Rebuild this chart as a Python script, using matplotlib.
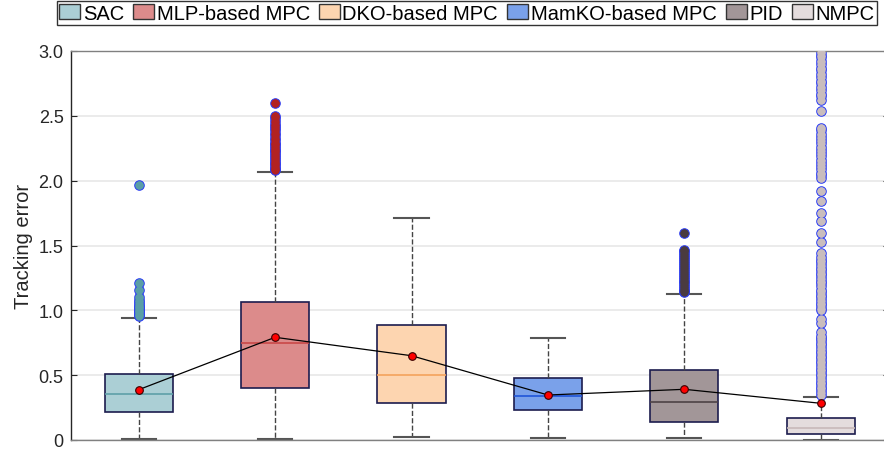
import matplotlib
matplotlib.use('Agg')
import matplotlib.pyplot as plt
from matplotlib import font_manager
from matplotlib.patches import Patch

# Datos
labels = ['SAC', 'MLP-based MPC', 'DKO-based MPC', 'MamKO-based MPC', 'PID', 'NMPC']
q1 = [0.218, 0.401, 0.288, 0.231, 0.141, 0.044]
med = [0.355, 0.746, 0.501, 0.337, 0.293, 0.090]
q3 = [0.509, 1.067, 0.884, 0.480, 0.537, 0.167]
whislo = [0.005, 0.005, 0.023, 0.018, 0.013, 0.002]
whishi = [0.943, 2.067, 1.712, 0.784, 1.128, 0.334]
means = [0.388, 0.792, 0.650, 0.347, 0.391, 0.283]

fliers_sac = [0.955, 0.965, 0.975, 0.985, 0.995, 1.005, 1.015, 1.025, 1.035, 1.05,
              1.065, 1.08, 1.10, 1.155, 1.21, 1.965]
fliers_mlp = [2.08, 2.09, 2.10, 2.115, 2.13, 2.14, 2.155, 2.17, 2.18, 2.195, 2.21,
              2.225, 2.24, 2.25, 2.265, 2.28, 2.29, 2.31, 2.33, 2.35, 2.37, 2.39,
              2.41, 2.425, 2.44, 2.46, 2.48, 2.50, 2.60]
fliers_dko = []
fliers_mamko = []
fliers_pid = [1.14, 1.15, 1.16, 1.175, 1.19, 1.20, 1.215, 1.23, 1.245, 1.26, 1.275,
              1.29, 1.305, 1.32, 1.335, 1.35, 1.365, 1.38, 1.395, 1.41, 1.425,
              1.44, 1.455, 1.465, 1.595]
fliers_nmpc = [0.35, 0.37, 0.39, 0.41, 0.43, 0.45, 0.47, 0.49, 0.51, 0.53, 0.55,
               0.57, 0.59, 0.61, 0.63, 0.65, 0.67, 0.69, 0.71, 0.73, 0.75, 0.77,
               0.79, 0.805, 0.835, 0.90, 0.93, 1.0, 1.02, 1.04, 1.06, 1.08, 1.10,
               1.12, 1.14, 1.16, 1.19, 1.21, 1.23, 1.25, 1.27, 1.29, 1.31, 1.33,
               1.35, 1.37, 1.39, 1.41, 1.44, 1.525, 1.60, 1.69, 1.75, 1.845,
               1.92, 2.02, 2.04, 2.06, 2.09, 2.11, 2.14, 2.16, 2.19, 2.21, 2.24,
               2.26, 2.29, 2.31, 2.34, 2.36, 2.39, 2.41, 2.54, 2.62, 2.65, 2.67,
               2.70, 2.72, 2.75, 2.77, 2.80, 2.82, 2.85, 2.87, 2.90, 2.92, 2.95,
               2.97, 2.99]
fliers = [fliers_sac, fliers_mlp, fliers_dko, fliers_mamko, fliers_pid, fliers_nmpc]

box_colors = ['#abcfd5', '#dc8b8b', '#fdd5b0', '#7aa1ea', '#a29698', '#e4dcdd']
med_colors = ['#5e9fa8', '#c94848', '#f4a35c', '#1f55d8', '#4d4246', '#c8b9b9']
flier_colors = ['#5a9ea6', '#b22222', '#f4a35c', '#1f55d8', '#4a3b40', '#c9bdbd']

names = {f.name for f in font_manager.fontManager.ttflist}
base_font = 'Liberation Sans' if 'Liberation Sans' in names else 'DejaVu Sans'
plt.rcParams['font.family'] = base_font

fig = plt.figure(figsize=(8.84, 4.56), dpi=100)
ax = fig.add_axes([70.5 / 884, 15 / 456, 818.5 / 884, 389 / 456])

positions = list(range(1, len(labels) + 1))
stats = []
for i in range(len(labels)):
    stats.append({'med': med[i], 'q1': q1[i], 'q3': q3[i], 'whislo': whislo[i],
                  'whishi': whishi[i], 'mean': means[i], 'fliers': fliers[i],
                  'label': labels[i]})

bp = ax.bxp(stats, positions=positions, widths=0.5, patch_artist=True,
            showmeans=False, showfliers=True,
            boxprops=dict(edgecolor='#1c1c4e', linewidth=1.2),
            whiskerprops=dict(color='#444444', linestyle='--', linewidth=1.0),
            capprops=dict(color='#555555', linewidth=1.5),
            medianprops=dict(linewidth=1.2))

for i in range(len(labels)):
    bp['boxes'][i].set_facecolor(box_colors[i])
    bp['medians'][i].set_color(med_colors[i])
    bp['fliers'][i].set(marker='o', markersize=6.8, markerfacecolor=flier_colors[i],
                        markeredgecolor='#2b3cf5', markeredgewidth=0.8)
    # relleno encima para que el borde azul quede solo por fuera
    if fliers[i]:
        ax.plot([positions[i]] * len(fliers[i]), fliers[i], linestyle='none',
                marker='o', markersize=5.9, markerfacecolor=flier_colors[i],
                markeredgewidth=0, zorder=3)

# Linea de medias
ax.plot(positions, means, color='black', linewidth=0.9, marker='o', markersize=5.5,
        markerfacecolor='red', markeredgecolor='#3a0000', markeredgewidth=0.8, zorder=5)

ax.set_xlim(0.5, 6.5)
ax.set_ylim(0, 3)
ax.set_yticks([0, 0.5, 1.0, 1.5, 2.0, 2.5, 3.0])
ax.set_yticklabels(['0', '0.5', '1.0', '1.5', '2.0', '2.5', '3.0'])
ax.set_xticks([])
ax.tick_params(axis='y', direction='in', length=4, labelsize=13, colors='#262626',
               right=True, pad=5)
ax.yaxis.grid(True, color='#e8e8e8', linewidth=1.2)
ax.set_axisbelow(True)
ax.set_ylabel('Tracking error', fontsize=14.5, color='#262626', labelpad=4)

ax.spines['left'].set_color('#262626')
for s in ['top', 'bottom', 'right']:
    ax.spines[s].set_color('#808080')
for s in ax.spines.values():
    s.set_linewidth(1.0)

handles = [Patch(facecolor=box_colors[i], edgecolor='#333333', linewidth=1.0)
           for i in range(len(labels))]
leg = fig.legend(handles, labels, loc='upper center', bbox_to_anchor=(0.528, 0.995),
                 ncol=6, frameon=True, fancybox=False, edgecolor='black',
                 prop={'family': base_font, 'size': 14.5},
                 handlelength=1.05, handleheight=0.75, handletextpad=0.12,
                 columnspacing=0.45, borderpad=0.12, borderaxespad=0)
leg.get_frame().set_linewidth(1.0)

fig.savefig('out.png', dpi=100)
